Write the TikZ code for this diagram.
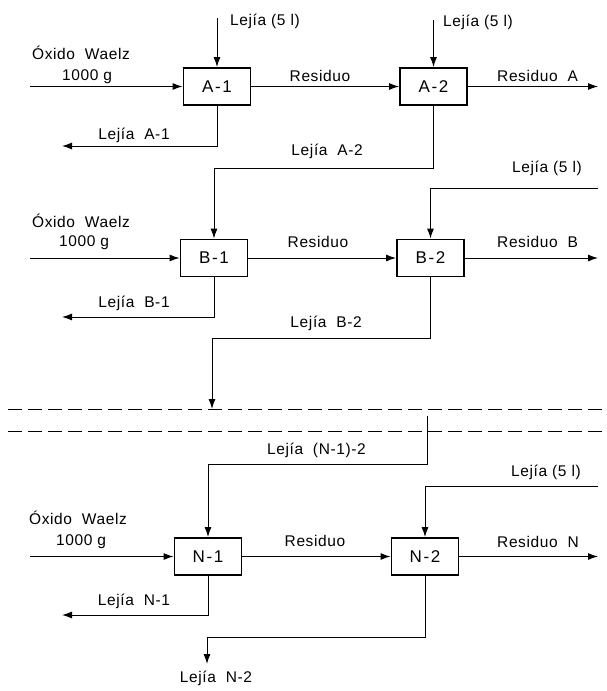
\documentclass[tikz,border=0pt]{standalone}
\usepackage{fontspec}
\newfontfamily\labfont[LetterSpace=4]{Liberation Sans}
\newfontfamily\unitfont[LetterSpace=10]{Liberation Sans}
\usetikzlibrary{arrows.meta}

\newcommand{\lab}{\labfont\fontsize{15.5}{18}\selectfont}
\newcommand{\unitlab}{\unitfont\fontsize{17}{20}\selectfont}

\begin{document}
\begin{tikzpicture}[x=1pt,y=-1pt,
  unit/.style={draw, line width=1.9pt, minimum width=67pt, minimum height=37pt,
               inner sep=0pt, font=\unitlab},
  flow/.style={line width=1pt},
  arr/.style={flow, -{Latex[length=10pt,width=7pt]}},
  lbl/.style={font=\lab, inner sep=0pt},
  sep/.style={line width=1pt, dash pattern=on 14pt off 6pt}]

\useasboundingbox (0,0) rectangle (607,691);

% extraction units
\node[unit] (A1) at (217,86.5)  {A-1};
\node[unit] (A2) at (433.5,86.5) {A-2};
\node[unit] (B1) at (214,258)   {B-1};
\node[unit] (B2) at (430.5,258) {B-2};
\node[unit] (N1) at (208,556.5) {N-1};
\node[unit] (N2) at (425,556.5) {N-2};

% free ends of the streams
\coordinate (inA) at (30,86.5);
\coordinate (inB) at (30,258);
\coordinate (inN) at (30,556.5);
\coordinate (sA1) at (217,18);
\coordinate (sA2) at (433.5,20);
\coordinate (sB2) at (598,188);
\coordinate (sN2) at (598,486);
\coordinate (outA) at (598,86.5);
\coordinate (outB) at (598,258);
\coordinate (outN) at (598,556.5);
\coordinate (eA1) at (62,146);
\coordinate (eB1) at (62,317);
\coordinate (eN1) at (62,615);
\coordinate (jA) at (214,168);
\coordinate (jB) at (212,338);
\coordinate (eB2) at (212,409);
\coordinate (sN) at (427,416);
\coordinate (jN) at (208,464);
\coordinate (jN2) at (207,637);
\coordinate (eN2) at (207,664);

% row A
\draw[arr] (inA) -- (A1);
\draw[arr] (sA1) -- (A1);
\draw[arr] (A1) -- (A2);
\draw[arr] (sA2) -- (A2);
\draw[arr] (A2) -- (outA);
\draw[arr] (A1.south) |- (eA1);
\draw[arr] (A2.south) |- (jA) -- (B1.north);

% row B
\draw[arr] (inB) -- (B1);
\draw[arr] (B1) -- (B2);
\draw[arr] (sB2) -| (B2.north);
\draw[arr] (B2) -- (outB);
\draw[arr] (B1.south) |- (eB1);
\draw[arr] (B2.south) |- (jB) -- (eB2);

% break in the series
\draw[sep] (8,409) -- (607,409);
\draw[sep] (8,431) -- (607,431);

% row N
\draw[arr] (sN) |- (jN) -- (N1.north);
\draw[arr] (inN) -- (N1);
\draw[arr] (N1) -- (N2);
\draw[arr] (sN2) -| (N2.north);
\draw[arr] (N2) -- (outN);
\draw[arr] (N1.south) |- (eN1);
\draw[arr] (N2.south) |- (jN2) -- (eN2);

% labels, row A
\node[lbl] (tA0) at (81,53) {Óxido\ \ Waelz};
\node[lbl] (tA0b) at (87,77) {1000 g};
\node[lbl, anchor=west] (tA1) at (230,21) {Lejía (5 l)};
\node[lbl, anchor=west] (tA2) at (443,22) {Lejía (5 l)};
\node[lbl] (tAr) at (320,76) {Residuo};
\node[lbl, anchor=west] (tAo) at (497,76) {Residuo\ \ A};
\node[lbl] (tAl1) at (134,135) {Lejía\ \ A-1};
\node[lbl, anchor=east] (tAl2) at (363,151) {Lejía\ \ A-2};

% labels, row B
\node[lbl] (tB0) at (81,221) {Óxido\ \ Waelz};
\node[lbl] (tB0b) at (84,243) {1000 g};
\node[lbl] (tB2) at (547,168) {Lejía (5 l)};
\node[lbl] (tBr) at (318,242) {Residuo};
\node[lbl, anchor=west] (tBo) at (497,242) {Residuo\ \ B};
\node[lbl] (tBl1) at (134,303) {Lejía\ \ B-1};
\node[lbl, anchor=east] (tBl2) at (362,323) {Lejía\ \ B-2};

% labels, row N
\node[lbl, anchor=east] (tNl0) at (366,450) {Lejía\ \ (N-1)-2};
\node[lbl] (tN0) at (78,518) {Óxido\ \ Waelz};
\node[lbl] (tN0b) at (81,542) {1000 g};
\node[lbl] (tN2) at (546,472) {Lejía (5 l)};
\node[lbl] (tNr) at (315,541) {Residuo};
\node[lbl, anchor=west] (tNo) at (497,542) {Residuo\ \ N};
\node[lbl] (tNl1) at (134,601) {Lejía\ \ N-1};
\node[lbl] (tNl2) at (216,678) {Lejía\ \ N-2};
\end{tikzpicture}
\end{document}
